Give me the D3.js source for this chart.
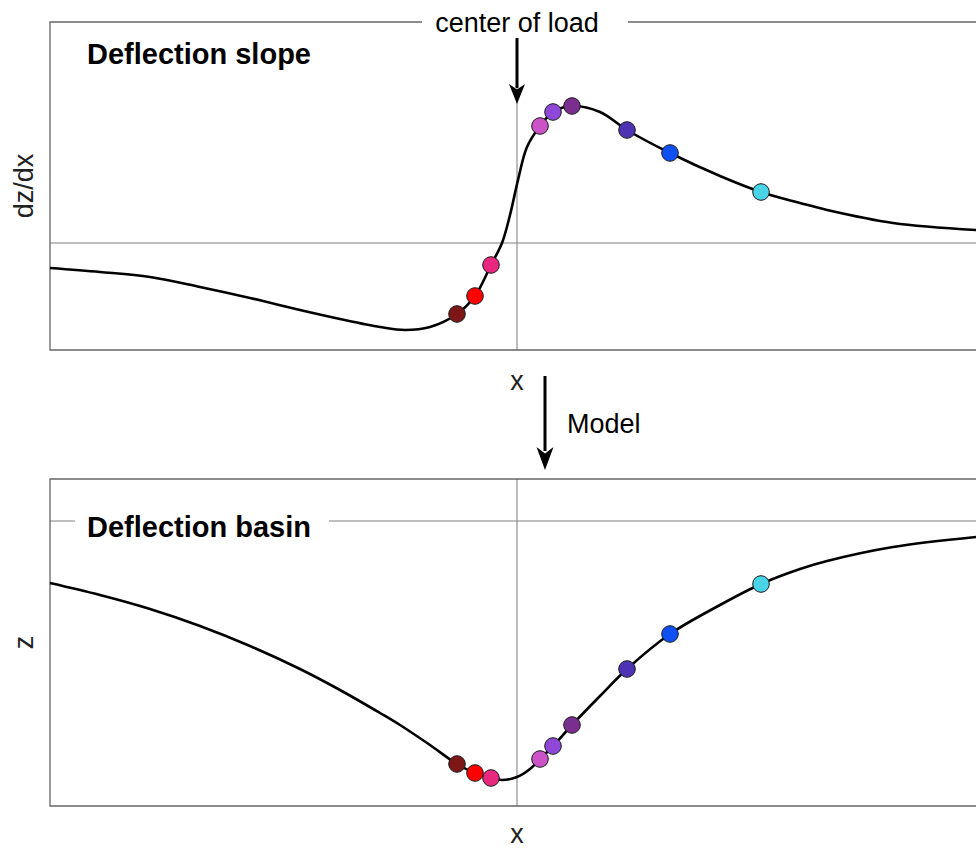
<!DOCTYPE html>
<html>
<head>
<meta charset="utf-8">
<script src="https://cdn.jsdelivr.net/npm/d3@7/dist/d3.min.js"></script>
<style>
  html, body { margin: 0; padding: 0; background: #fff; }
  svg { display: block; font-family: "Liberation Sans", Arial, Helvetica, sans-serif; }
</style>
</head>
<body>
<svg id="chart" width="976" height="849"></svg>
<script>
// ---- data (x: distance from centre of load, arbitrary units) ----
const curveX      = [-467,-417,-367,-317,-267,-217,-177,-137,-112,-87,-60,-42,-26,-15,-7,1,10,23,36,55,83,110,153,203,244,283,310,376,459];
const slopeCurve  = [-25,-29,-34,-44,-55,-67,-76,-84,-87,-84,-71,-53,-22,0,28,63,96,117,131,137,131,113,90,67,51,40,33,20,13];
const basinX      = [-467,-417,-367,-317,-267,-217,-177,-137,-117,-87,-60,-42,-26,-15,0,13,23,36,55,83,110,153,203,244,283,310,376,459];
const basinCurve  = [-62,-74,-88,-105,-125,-148,-169,-192,-204,-224,-243,-252,-257,-259,-256,-248,-238,-225,-204,-175,-148,-113,-84,-63,-48,-40,-26,-16];

const sensorX     = [-60,-42,-26,23,36,55,110,153,244];
const sensorSlope = [-71,-53,-22,117,131,137,113,90,51];
const sensorZ     = [-243,-252,-257,-238,-225,-204,-148,-113,-63];
const sensorColor = ["#7d1717","#ff0000","#e8287f","#cc52c8","#8f47d8","#7a2f8f","#4b33b3","#0f50f5","#48d4e6"];

const titles      = ["Deflection slope","Deflection basin"];
const yLabels     = ["dz/dx","z"];
const xLabel      = "x";
const loadLabel   = "center of load";
const modelLabel  = "Model";

// ---- layout ----
const svg = d3.select("#chart");
const left = 50, right = 976;
const x = d3.scaleLinear().domain([-467, 459]).range([left, right]);
const yTop = d3.scaleLinear().domain([-107, 221]).range([350, 22]);
const yBot = d3.scaleLinear().domain([-285, 42]).range([806, 479]);
const font = 27;

function panel(y, xs, ys, sy, title, ylab, titleBox, xLabY) {
  const [b, t] = y.range();
  const g = svg.append("g");
  g.append("line").attr("x1", left).attr("x2", right).attr("y1", y(0)).attr("y2", y(0))
    .attr("stroke", "#808080").attr("stroke-width", 1.2);
  g.append("line").attr("x1", x(0)).attr("x2", x(0)).attr("y1", t).attr("y2", b)
    .attr("stroke", "#909090").attr("stroke-width", 1.2);
  g.append("path").attr("d", `M${right},${t}H${left}V${b}H${right}`)
    .attr("fill", "none").attr("stroke", "#666").attr("stroke-width", 1.3);
  if (titleBox) {
    g.append("rect").attr("x", 75).attr("y", t + 25).attr("width", 254).attr("height", 34).attr("fill", "#fff");
  }
  g.append("text").attr("x", 87).attr("y", titleBox ? 537 : 64)
    .attr("font-size", 29).attr("font-weight", "bold").attr("fill", "#000").text(title);
  const line = d3.line().x((d, i) => x(xs[i])).y((d) => y(d)).curve(d3.curveCatmullRom.alpha(0.5));
  g.append("path").datum(ys).attr("d", line).attr("fill", "none")
    .attr("stroke", "#000").attr("stroke-width", 2.6);
  g.selectAll("circle").data(sy).join("circle")
    .attr("cx", (d, i) => x(sensorX[i])).attr("cy", (d) => y(d)).attr("r", 8.3)
    .attr("fill", (d, i) => sensorColor[i]).attr("stroke", "#1a1a1a").attr("stroke-width", 1);
  g.append("text").attr("x", x(0)).attr("y", xLabY).attr("text-anchor", "middle")
    .attr("font-size", font).attr("fill", "#222").text(xLabel);
  g.append("text").attr("transform", `translate(33,${(t + b) / 2}) rotate(-90)`)
    .attr("text-anchor", "middle").attr("font-size", font).attr("fill", "#222").text(ylab);
}

panel(yTop, curveX, slopeCurve, sensorSlope, titles[0], yLabels[0], false, 390);
panel(yBot, basinX, basinCurve, sensorZ, titles[1], yLabels[1], true, 843);

svg.append("rect").attr("x", 422).attr("y", 5).attr("width", 206).attr("height", 30).attr("fill", "#fff");
svg.append("rect").attr("x", x(0) - 3).attr("y", 22).attr("width", 6).attr("height", 18).attr("fill", "#fff");
svg.append("text").attr("x", x(0)).attr("y", 32).attr("text-anchor", "middle")
  .attr("font-size", font).attr("fill", "#000").text(loadLabel);

function arrow(cx, y1, y2, hw, hl) {
  svg.append("line").attr("x1", cx).attr("x2", cx).attr("y1", y1).attr("y2", y2 - hl + 4)
    .attr("stroke", "#000").attr("stroke-width", 3);
  svg.append("path")
    .attr("d", `M${cx},${y2} L${cx - hw},${y2 - hl} L${cx},${y2 - hl * 0.72} L${cx + hw},${y2 - hl} Z`)
    .attr("fill", "#000");
}
arrow(x(0), 38, 104, 8, 20);
arrow(545, 376, 470, 8.5, 23);
svg.append("text").attr("x", 567).attr("y", 433).attr("font-size", font).attr("fill", "#000").text(modelLabel);
</script>
</body>
</html>
